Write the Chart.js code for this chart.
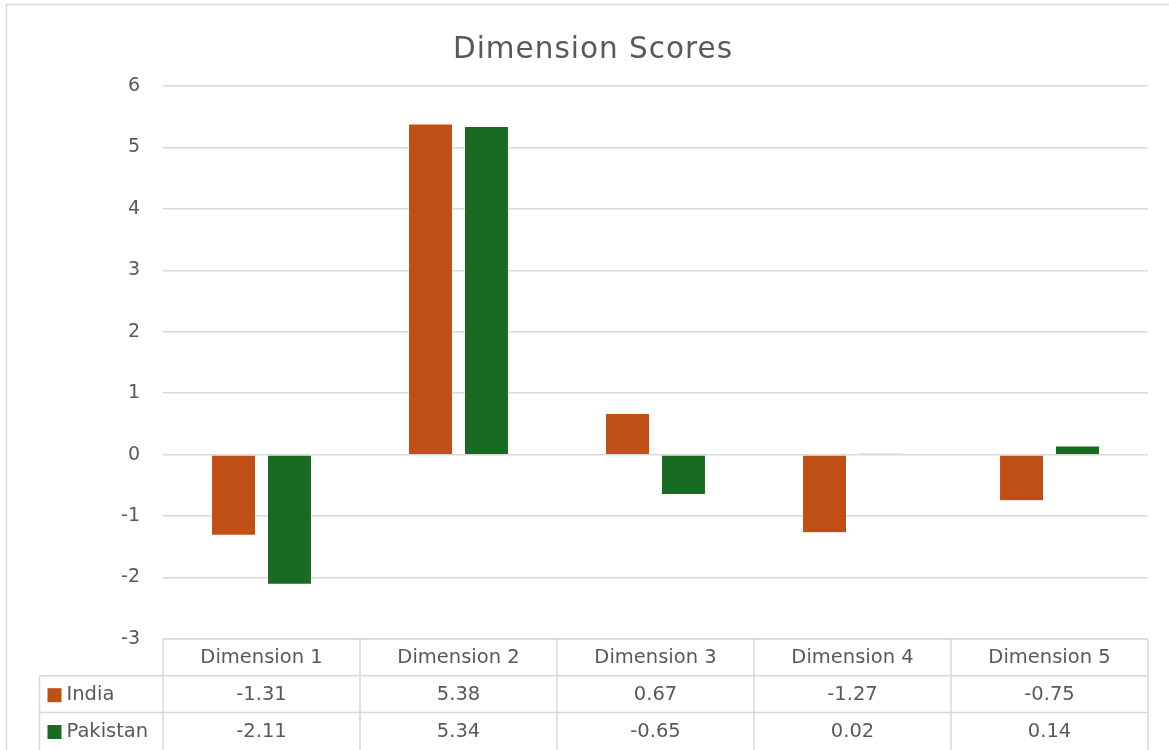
<!DOCTYPE html>
<html>
<head>
<meta charset="utf-8">
<script src="https://cdn.jsdelivr.net/npm/chart.js@4.4.1/dist/chart.umd.min.js"></script>
<style>
  html, body { margin: 0; padding: 0; background: #ffffff; }
  #wrap { position: relative; width: 1169px; height: 750px; overflow: hidden; }
  canvas { display: block; }
</style>
</head>
<body>
<div id="wrap"><canvas id="c" width="1169" height="750"></canvas></div>
<script>
// Categories, series and axis ticks
const categories = ["Dimension 1", "Dimension 2", "Dimension 3", "Dimension 4", "Dimension 5"];
const seriesNames = ["India", "Pakistan"];
const indiaScores = [-1.31, 5.38, 0.67, -1.27, -0.75];
const pakistanScores = [-2.11, 5.34, -0.65, 0.02, 0.14];
const yTicks = [-3, -2, -1, 0, 1, 2, 3, 4, 5, 6];
const chartTitle = "Dimension Scores";

const seriesColors = ["#C04F15", "#196B24"];
const textColor = "#595959";
const lineColor = "#D9D9D9";
const fontFamily = "'DejaVu Sans', 'Liberation Sans', sans-serif";

// White background, outer frame and the title
const framePlugin = {
  id: 'frame',
  beforeDraw(chart) {
    const ctx = chart.ctx;
    ctx.save();
    ctx.fillStyle = '#ffffff';
    ctx.fillRect(0, 0, chart.width, chart.height);
    ctx.strokeStyle = lineColor;
    ctx.lineWidth = 1.5;
    ctx.beginPath();
    ctx.moveTo(6.5, chart.height + 2);
    ctx.lineTo(6.5, 4.5);
    ctx.lineTo(chart.width + 2, 4.5);
    ctx.stroke();

    ctx.fillStyle = textColor;
    ctx.font = `29.5px ${fontFamily}`;
    ctx.letterSpacing = '1px';
    ctx.textAlign = 'center';
    ctx.textBaseline = 'alphabetic';
    ctx.fillText(chartTitle, 593, 58);
    ctx.restore();
  }
};

// Data table under the plot: header row of categories, one row per series
const dataTablePlugin = {
  id: 'dataTable',
  afterDraw(chart) {
    const ctx = chart.ctx;
    const xs = chart.scales.x;
    const area = chart.chartArea;
    const rowH = 36.8;
    const top = area.bottom;
    const legendLeft = 39.5;
    const n = categories.length;
    const colW = (area.right - area.left) / n;

    ctx.save();
    ctx.strokeStyle = lineColor;
    ctx.lineWidth = 1.5;

    ctx.beginPath();
    ctx.moveTo(area.left, top);
    ctx.lineTo(area.right, top);
    for (let r = 1; r <= chart.data.datasets.length; r++) {
      const y = top + rowH * r;
      ctx.moveTo(legendLeft, y);
      ctx.lineTo(area.right, y);
    }
    ctx.moveTo(legendLeft, top + rowH);
    ctx.lineTo(legendLeft, chart.height + 2);
    for (let i = 0; i <= n; i++) {
      const x = area.left + colW * i;
      ctx.moveTo(x, top);
      ctx.lineTo(x, chart.height + 2);
    }
    ctx.stroke();

    ctx.fillStyle = textColor;
    ctx.font = `19.5px ${fontFamily}`;
    ctx.textAlign = 'center';
    ctx.textBaseline = 'middle';

    categories.forEach((cat, i) => {
      ctx.fillText(cat, xs.getPixelForValue(i), top + rowH / 2 + 1);
    });

    chart.data.datasets.forEach((ds, r) => {
      const cy = top + rowH * (r + 1) + rowH / 2 + 1;
      ctx.fillStyle = ds.backgroundColor;
      ctx.fillRect(legendLeft + 8, cy - 7, 14, 14);
      ctx.fillStyle = textColor;
      ctx.textAlign = 'left';
      ctx.fillText(ds.label, legendLeft + 27, cy);
      ctx.textAlign = 'center';
      ds.data.forEach((v, i) => {
        ctx.fillText(v.toFixed(2), xs.getPixelForValue(i), cy);
      });
    });
    ctx.restore();
  }
};

new Chart(document.getElementById('c'), {
  type: 'bar',
  data: {
    labels: categories,
    datasets: [
      { label: seriesNames[0], data: indiaScores, backgroundColor: seriesColors[0],
        borderColor: 'rgba(255,255,255,0.5)', borderWidth: 0.5 },
      { label: seriesNames[1], data: pakistanScores, backgroundColor: seriesColors[1],
        borderColor: 'rgba(255,255,255,0.5)', borderWidth: 0.5 }
    ]
  },
  options: {
    responsive: false,
    animation: false,
    devicePixelRatio: 1,
    layout: { padding: { left: 0, right: 21, top: 86, bottom: 111 } },
    datasets: { bar: { categoryPercentage: 0.568, barPercentage: 0.786 } },
    plugins: {
      legend: { display: false },
      tooltip: { enabled: false },
      title: { display: false }
    },
    scales: {
      x: { display: false },
      y: {
        min: yTicks[0],
        max: yTicks[yTicks.length - 1],
        afterBuildTicks(scale) { scale.ticks = yTicks.map(v => ({ value: v })); },
        afterFit(scale) { scale.width = 163; },
        grid: { color: lineColor, lineWidth: 1.5, drawTicks: false },
        border: { display: false },
        ticks: {
          color: textColor,
          padding: 23,
          font: { family: fontFamily, size: 19 }
        }
      }
    }
  },
  plugins: [framePlugin, dataTablePlugin]
});
</script>
</body>
</html>
